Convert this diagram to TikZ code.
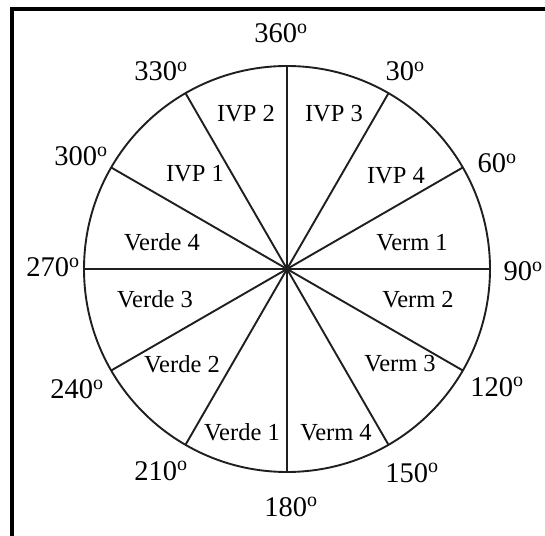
\documentclass[tikz,border=0pt]{standalone}
\usepackage{fontspec}
\setmainfont{Liberation Serif}
\usetikzlibrary{calc}
\begin{document}
\begin{tikzpicture}[x=1pt,y=1pt,
  deg/.style={anchor=base,inner sep=0pt,font=\fontsize{28.5}{31}\selectfont},
  sector/.style={anchor=base,inner sep=0pt,font=\fontsize{24.5}{27}\selectfont},
  ray/.style={line width=1.9pt,draw=black!88},
  frame/.style={line width=4pt,draw=black,line join=miter}]
\useasboundingbox (0,0) rectangle (545,535);
\draw[frame] (545,526) -- (12,526) -- (12,-2);
\coordinate (c) at (287,266);
\draw[ray] (c) circle[radius=203];
\foreach \a in {0,30,...,330}{
  \coordinate (p\a) at ($(c)+({90-\a}:203)$);
}
\foreach \a/\b in {0/180,30/210,60/240,90/270,120/300,150/330}{
  \draw[ray] (p\a) -- (p\b);
}
% degree labels
\node[deg] (d360) at (281,492) {360\textsuperscript{o}};
\node[deg] (d30)  at (405,454) {30\textsuperscript{o}};
\node[deg] (d60)  at (497,362) {60\textsuperscript{o}};
\node[deg] (d90)  at (523,254) {90\textsuperscript{o}};
\node[deg] (d120) at (497,139) {120\textsuperscript{o}};
\node[deg] (d150) at (412,53)  {150\textsuperscript{o}};
\node[deg] (d180) at (291,19)  {180\textsuperscript{o}};
\node[deg] (d210) at (161,55)  {210\textsuperscript{o}};
\node[deg] (d240) at (77,136)  {240\textsuperscript{o}};
\node[deg] (d270) at (53,258)  {270\textsuperscript{o}};
\node[deg] (d300) at (81,369)  {300\textsuperscript{o}};
\node[deg] (d330) at (161,454) {330\textsuperscript{o}};
% sector labels
\node[sector] (s1)  at (246,413) {IVP 2};
\node[sector] (s2)  at (334,413) {IVP 3};
\node[sector] (s3)  at (195,353) {IVP 1};
\node[sector] (s4)  at (396,351) {IVP 4};
\node[sector] (s5)  at (412,284) {Verm 1};
\node[sector] (s6)  at (418,227) {Verm 2};
\node[sector] (s7)  at (400,163) {Verm 3};
\node[sector] (s8)  at (336,95)  {Verm 4};
\node[sector] (s9)  at (242,95)  {Verde 1};
\node[sector] (s10) at (182,162) {Verde 2};
\node[sector] (s11) at (155,227) {Verde 3};
\node[sector] (s12) at (162,284) {Verde 4};
\end{tikzpicture}
\end{document}
